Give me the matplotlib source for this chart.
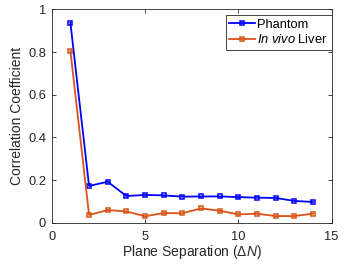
import matplotlib
matplotlib.use("Agg")
import matplotlib.pyplot as plt

plt.rcParams['font.family'] = ['Liberation Sans', 'DejaVu Sans']
plt.rcParams['mathtext.fontset'] = 'custom'
plt.rcParams['mathtext.rm'] = 'Liberation Sans'
plt.rcParams['mathtext.it'] = 'Liberation Sans:italic'

separation = [1, 2, 3, 4, 5, 6, 7, 8, 9, 10, 11, 12, 13, 14]
phantom = [0.937, 0.172, 0.192, 0.125, 0.130, 0.128, 0.122, 0.123, 0.123, 0.120, 0.117, 0.116, 0.102, 0.097]
liver = [0.805, 0.036, 0.059, 0.053, 0.030, 0.045, 0.044, 0.067, 0.056, 0.039, 0.042, 0.031, 0.031, 0.042]
series_labels = ['Phantom', r'$\mathit{In\ vivo}$ Liver']
xticks = [0, 5, 10, 15]
yticks = [0, 0.2, 0.4, 0.6, 0.8, 1]
ytick_labels = ['0', '0.2', '0.4', '0.6', '0.8', '1']

fig = plt.figure(figsize=(3.45, 2.67), dpi=100)
ax = fig.add_axes([0.150, 0.166, 0.811, 0.799])

ax.plot(separation, phantom, color=(0, 0, 1), lw=1.3, marker='s', ms=3.0,
        mfc='none', mew=1.1, label=series_labels[0])
ax.plot(separation, liver, color=(0.85, 0.325, 0.098), lw=1.3, marker='s', ms=3.0,
        mfc='none', mew=1.1, label=series_labels[1])

ax.set_xlim(0, 15)
ax.set_ylim(0, 1)
ax.set_xticks(xticks)
ax.set_yticks(yticks)
ax.set_yticklabels(ytick_labels)
gray = (0.15, 0.15, 0.15)
ax.tick_params(direction='in', top=True, right=True, labelsize=9.3, colors=gray,
               length=3, width=0.6)
ax.tick_params(axis='x', pad=6)
ax.tick_params(axis='y', pad=4)
for s in ax.spines.values():
    s.set_color(gray)
    s.set_linewidth(0.6)

ax.set_xlabel(r'Plane Separation ($\mathit{ΔN}$)', fontsize=10, color=gray, labelpad=0)
ax.set_ylabel('Correlation Coefficient', fontsize=10, color=gray, labelpad=3)

leg = ax.legend(loc='upper right', bbox_to_anchor=(1.0, 0.975), fontsize=9.3,
                frameon=True, fancybox=False, edgecolor=gray, framealpha=1,
                handlelength=2.0, handletextpad=0.15, borderpad=0.3,
                labelspacing=0.2, borderaxespad=0.0)
leg.get_frame().set_linewidth(0.6)
for t in leg.get_texts():
    t.set_color('black')

fig.savefig('out.png', dpi=100)
